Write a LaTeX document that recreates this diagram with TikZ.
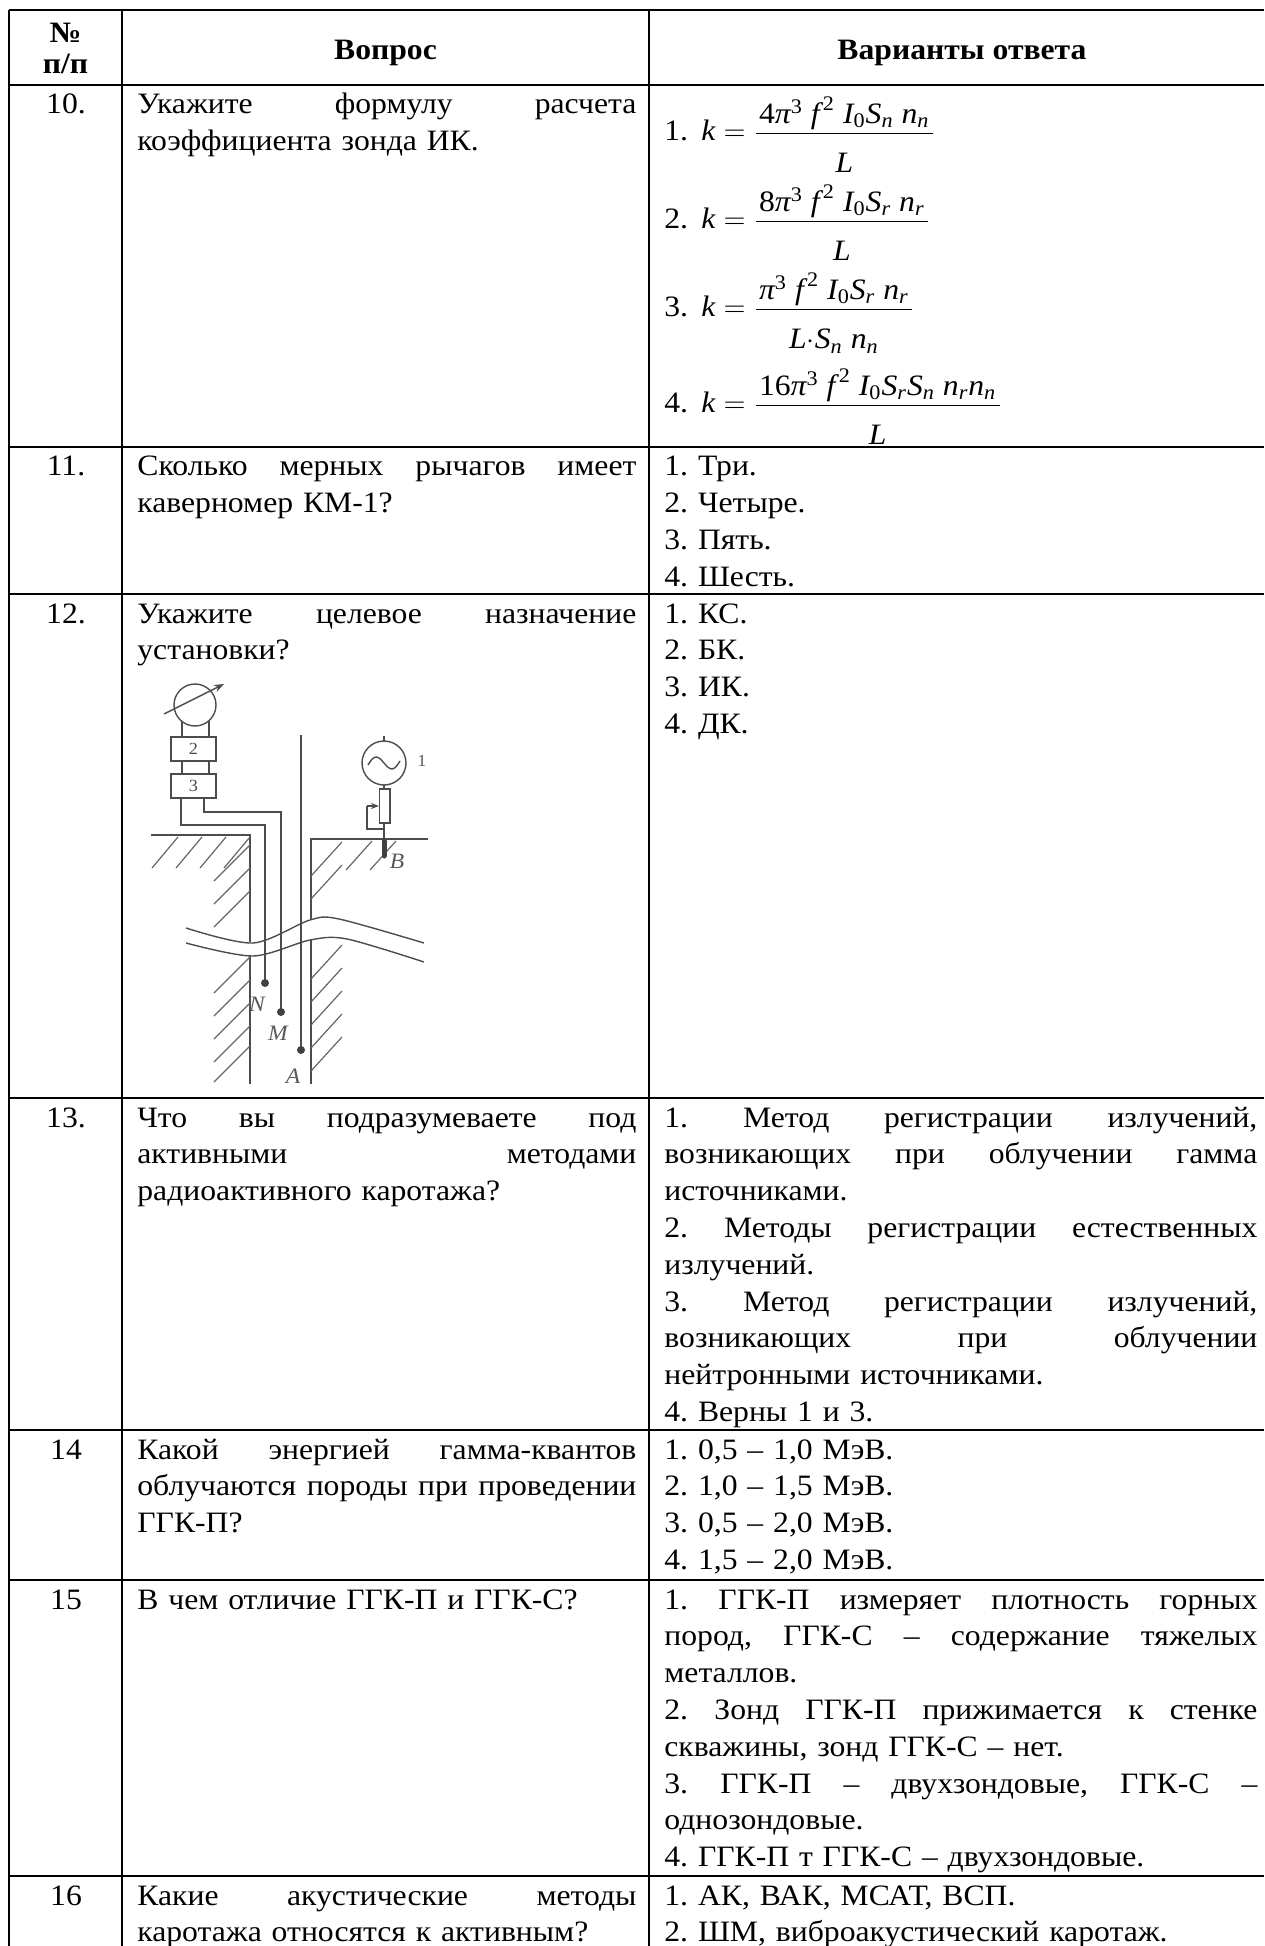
\documentclass[tikz,border=0pt]{standalone}
\usepackage{fontspec}
\setmainfont[FakeStretch=1.07]{Liberation Serif}
\usepackage{amsmath}
\usetikzlibrary{arrows.meta}
\newcommand\cellfont{\fontsize{14.8}{18.4}\selectfont\frenchspacing}
\newcommand\jq[1]{\makebox[249.5pt][s]{\spaceskip=\fontdimen2\font plus 1fil\relax #1}}
\newcommand\ja[1]{\makebox[296.5pt][s]{\spaceskip=\fontdimen2\font plus 1fil\relax #1}}
\newcommand\mv[1]{\textit{#1}}
\newcommand\mn[1]{\textrm{#1}}
\newcommand\gap{\mskip 5mu}
\newcommand\fnum[1]{\raisebox{-4.5pt}{$\mskip2mu#1\mskip2mu$}}
\newcommand\fden[1]{\raisebox{-6pt}{$#1$}}
\tikzset{
  tabline/.style={line width=1.3pt},
  cell/.style={anchor=base west, inner sep=0pt, align=left, font=\cellfont},
  qcell/.style={cell, text width=249.5pt},
  acell/.style={cell, text width=296.5pt},
  num/.style={anchor=base, inner sep=0pt, font=\cellfont},
  head/.style={anchor=base, inner sep=0pt, font=\cellfont\bfseries},
  fig/.style={draw=black!70, line width=0.7pt},
  hatch/.style={draw=black!60, line width=0.6pt},
  figbox/.style={draw=black!70, line width=0.7pt, minimum width=22.5pt, minimum height=12pt, inner sep=0pt, text=black!70, font=\fontsize{8.5}{10}\selectfont},
  figlabel/.style={inner sep=0pt, text=black!65, font=\fontsize{11}{13}\selectfont\itshape}
}
\begin{document}
\begin{tikzpicture}[x=0.5pt,y=-0.5pt]
\useasboundingbox (0,0) rectangle (1264,1946);

% table rules
\foreach \y in {10,85,447,594,1098,1430,1580,1876}
  \draw[tabline] (9,\y) -- (1264,\y);
\foreach \x in {9,122,649}
  \draw[tabline] (\x,10) -- (\x,1946);

% header
\node[head, align=center, font=\fontsize{14.8}{15.5}\selectfont\bfseries] (hnum) at (65.5,74) {№\\п/п};
\node[head] (hq) at (385.5,60) {Вопрос};
\node[head] (ha) at (962,60) {Варианты ответа};

% row 10
\node[num] (n10) at (66,114) {10.};
\node[qcell] (q10) at (137,114) {\jq{Укажите формулу расчета}\\коэффициента зонда ИК.};
\node[cell] (a10a) at (664,141) {1.\hspace{0.45em}$\displaystyle \mv{k}=\frac{\fnum{\mn{4}\mv{π}^{\mn{3}}\gap\mv{f}^{\,\mn{2}}\gap\mv{I}_{\mn{0}}\mv{S}_{\mv{n}}\gap\mv{n}_{\mv{n}}}}{\fden{\mv{L}}}$};
\node[cell] (a10b) at (664,229) {2.\hspace{0.45em}$\displaystyle \mv{k}=\frac{\fnum{\mn{8}\mv{π}^{\mn{3}}\gap\mv{f}^{\,\mn{2}}\gap\mv{I}_{\mn{0}}\mv{S}_{\mv{r}}\gap\mv{n}_{\mv{r}}}}{\fden{\mv{L}}}$};
\node[cell] (a10c) at (664,317) {3.\hspace{0.45em}$\displaystyle \mv{k}=\frac{\fnum{\mv{π}^{\mn{3}}\gap\mv{f}^{\,\mn{2}}\gap\mv{I}_{\mn{0}}\mv{S}_{\mv{r}}\gap\mv{n}_{\mv{r}}}}{\fden{\mv{L}{\cdot}\mv{S}_{\mv{n}}\gap\mv{n}_{\mv{n}}}}$};
\node[cell] (a10d) at (664,413) {4.\hspace{0.45em}$\displaystyle \mv{k}=\frac{\fnum{\mn{16}\mv{π}^{\mn{3}}\gap\mv{f}^{\,\mn{2}}\gap\mv{I}_{\mn{0}}\mv{S}_{\mv{r}}\mv{S}_{\mv{n}}\gap\mv{n}_{\mv{r}}\mv{n}_{\mv{n}}}}{\fden{\mv{L}}}$};

% row 11
\node[num] (n11) at (66,476) {11.};
\node[qcell] (q11) at (137,476) {\jq{Сколько мерных рычагов имеет}\\каверномер КМ-1?};
\node[acell] (a11) at (664,476) {1. Три.\\2. Четыре.\\3. Пять.\\4. Шесть.};

% row 12
\node[num] (n12) at (66,623) {12.};
\node[qcell] (q12) at (137,623) {\jq{Укажите целевое назначение}\\установки?};
\node[acell] (a12) at (664,623) {1. КС.\\2. БК.\\3. ИК.\\4. ДК.};

% sketch of the set-up
\draw[fig] (195,705) circle (21);
\draw[fig,-{Stealth[length=5pt]}] (164,714) -- (224,684);
\draw[fig] (182,721) -- (182,737) (209,721) -- (209,737);
\node[figbox] (box2) at (193.5,749) {2};
\draw[fig] (182,761) -- (182,775) (209,761) -- (209,775);
\node[figbox] (box3) at (193.5,786) {3};
\draw[fig] (181,798) -- (181,825) -- (265,825) -- (265,983);
\draw[fig] (204,798) -- (204,812) -- (281,812) -- (281,1012);
\draw[fig] (301,735) -- (301,1050);
% ground and borehole walls
\draw[fig] (151,835) -- (250,835) -- (250,942);
\draw[fig] (250,955) -- (250,1084);
\draw[fig] (428,839) -- (311,839) -- (311,920);
\draw[fig] (311,940) -- (311,1084);
\foreach \x in {152,176,200,224}
  \draw[hatch] (\x,868) -- (\x+26,837);
\foreach \x in {346,370}
  \draw[hatch] (\x,870) -- (\x+26,841);
\foreach \y in {845,868,891,957,980,1003,1026,1046}
  \draw[hatch] (214,\y+36) -- (250,\y);
\foreach \y in {842,865,945,968,991,1014,1037}
  \draw[hatch] (311,\y+34) -- (342,\y);
% break
\draw[fig] plot[smooth] coordinates {(186,928) (253,943) (310,920) (339,919) (424,943)};
\draw[fig] plot[smooth] coordinates {(186,943) (253,956) (310,940) (347,939) (424,962)};
% electrodes
\fill[black!75] (265,983) circle (4) (281,1012) circle (4) (301,1050) circle (4);
\node[figlabel] (lN) at (257,1004) {N};
\node[figlabel] (lM) at (278,1033) {M};
\node[figlabel] (lA) at (293,1076) {A};
% generator
\draw[fig] (384,763) circle (22);
\draw[fig] (384,736) -- (384,741);
\draw[fig] (368,765) sin (376,757) cos (384,763) sin (392,769) cos (400,761);
\node[figlabel, font=\fontsize{8.5}{10}\selectfont] (l1) at (422,761) {1};
\draw[fig] (384,785) -- (384,789);
\draw[fig] (379.5,789) rectangle (390,823);
\draw[fig,-{Stealth[length=4pt]}] (367,806) -- (379,806);
\draw[fig] (367,806) -- (367,829) -- (384,829);
\draw[fig] (384,823) -- (384,840);
\draw[black!75, line width=2.5pt, line cap=round] (384,841) -- (384,856);
\node[figlabel] (lB) at (397,861) {B};

% row 13
\node[num] (n13) at (66,1127) {13.};
\node[qcell] (q13) at (137,1127) {\jq{Что вы подразумеваете под}\\\jq{активными методами}\\радиоактивного каротажа?};
\node[acell] (a13) at (664,1127) {\ja{1. Метод регистрации излучений,}\\\ja{возникающих при облучении гамма}\\источниками.\\\ja{2. Методы регистрации естественных}\\излучений.\\\ja{3. Метод регистрации излучений,}\\\ja{возникающих при облучении}\\нейтронными источниками.\\4. Верны 1 и 3.};

% row 14
\node[num] (n14) at (66,1459) {14};
\node[qcell] (q14) at (137,1459) {\jq{Какой энергией гамма-квантов}\\\jq{облучаются породы при проведении}\\ГГК-П?};
\node[acell] (a14) at (664,1459) {1. 0,5 – 1,0 МэВ.\\2. 1,0 – 1,5 МэВ.\\3. 0,5 – 2,0 МэВ.\\4. 1,5 – 2,0 МэВ.};

% row 15
\node[num] (n15) at (66,1609) {15};
\node[qcell] (q15) at (137,1609) {В чем отличие ГГК-П и ГГК-С?};
\node[acell] (a15) at (664,1609) {\ja{1. ГГК-П измеряет плотность горных}\\\ja{пород, ГГК-С – содержание тяжелых}\\металлов.\\\ja{2. Зонд ГГК-П прижимается к стенке}\\скважины, зонд ГГК-С – нет.\\\ja{3. ГГК-П – двухзондовые, ГГК-С –}\\однозондовые.\\4. ГГК-П т ГГК-С – двухзондовые.};

% row 16
\node[num] (n16) at (66,1905) {16};
\node[qcell] (q16) at (137,1905) {\jq{Какие акустические методы}\\каротажа относятся к активным?};
\node[acell] (a16) at (664,1905) {1. АК, ВАК, МСАТ, ВСП.\\2. ШМ, виброакустический каротаж.};
\end{tikzpicture}
\end{document}
